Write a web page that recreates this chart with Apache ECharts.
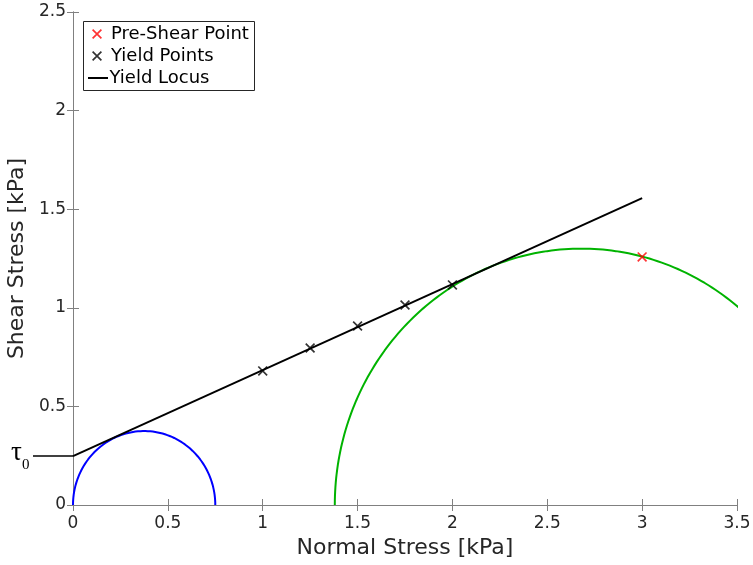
<!DOCTYPE html>
<html>
<head>
<meta charset="utf-8">
<script src="https://cdn.jsdelivr.net/npm/echarts@6/dist/echarts.min.js"></script>
<style>
  html, body { margin: 0; padding: 0; background: #fff; }
  #chart { width: 753px; height: 565px; }
</style>
</head>
<body>
<div id="chart"></div>
<script>
// Mohr circles (centre, radius) in kPa
const circleCentres = [0.375, 2.68];
const circleRadii = [0.375, 1.30];
const circleColors = ['#0000ff', '#00b300'];

// Yield locus: cohesion tau0 and end point
const tau0 = 0.248;
const locusX = [0, 3];
const locusY = [0.248, 1.556];

// Measured yield points
const yieldX = [1, 1.25, 1.5, 1.75, 2];
const yieldY = [0.68, 0.796, 0.908, 1.014, 1.116];

// Pre-shear point
const preShearX = [3];
const preShearY = [1.258];

// Axis ranges and ticks
const xTicks = [0, 0.5, 1, 1.5, 2, 2.5, 3, 3.5];
const yTicks = [0, 0.5, 1, 1.5, 2, 2.5];

const FONT = 'DejaVu Sans';
const AXIS_GRAY = '#808080';
const TEXT = '#262626';
const CROSS = 'path://M0,1.2L1.2,0L10,8.8L8.8,10Z M8.8,0L10,1.2L1.2,10L0,8.8Z';
const DASH = 'path://M0,0H20V2H0Z';

// Upper half of a Mohr circle as a polyline
function halfCircle(c, r) {
  const pts = [];
  const n = 180;
  for (let i = 0; i <= n; i++) {
    const a = Math.PI - Math.PI * i / n;
    pts.push([c + r * Math.cos(a), r * Math.sin(a)]);
  }
  return pts;
}

const chart = echarts.init(document.getElementById('chart'), null, { renderer: 'canvas' });

const axisCommon = {
  type: 'value',
  axisLine: { show: true, lineStyle: { color: AXIS_GRAY, width: 1 } },
  axisTick: { show: true, inside: true, length: 6, lineStyle: { color: AXIS_GRAY } },
  splitLine: { show: false },
};

const legendText = { fontFamily: FONT, fontSize: 18, color: '#000' };

const option = {
  animation: false,
  backgroundColor: '#fff',
  grid: { left: 73, right: 16, top: 12, bottom: 60, containLabel: false, outerBoundsMode: 'none' },
  xAxis: [
    Object.assign({}, axisCommon, {
      min: xTicks[0], max: xTicks[xTicks.length - 1], interval: 0.5,
      position: 'bottom',
      name: 'Normal Stress [kPa]', nameLocation: 'middle', nameGap: 31,
      nameTextStyle: { fontFamily: FONT, fontSize: 22, color: TEXT },
      axisLabel: { fontFamily: FONT, fontSize: 17, color: TEXT, margin: 10 },
    }),
    Object.assign({}, axisCommon, {
      min: xTicks[0], max: xTicks[xTicks.length - 1], interval: 0.5,
      position: 'top', axisLabel: { show: false },
    }),
  ],
  yAxis: [
    Object.assign({}, axisCommon, {
      min: yTicks[0], max: yTicks[yTicks.length - 1], interval: 0.5,
      position: 'left',
      name: 'Shear Stress [kPa]', nameLocation: 'middle', nameGap: 41,
      nameTextStyle: { fontFamily: FONT, fontSize: 22, color: TEXT },
      axisLabel: { fontFamily: FONT, fontSize: 17, color: TEXT, margin: 7 },
    }),
    Object.assign({}, axisCommon, {
      min: yTicks[0], max: yTicks[yTicks.length - 1], interval: 0.5,
      position: 'right', axisLabel: { show: false },
    }),
  ],
  legend: [
    {
      left: 92, top: 25, itemWidth: 10, itemHeight: 10, padding: 0,
      data: [{ name: 'Pre-Shear Point', icon: CROSS }],
      textStyle: Object.assign({ padding: [0, 0, 0, 4] }, legendText),
      selectedMode: false,
    },
    {
      left: 92, top: 47, itemWidth: 10, itemHeight: 10, padding: 0,
      data: [{ name: 'Yield Points', icon: CROSS }],
      textStyle: Object.assign({ padding: [0, 0, 0, 4] }, legendText),
      selectedMode: false,
    },
    {
      left: 88, top: 69, itemWidth: 21, itemHeight: 2, padding: 0,
      data: [{ name: 'Yield Locus', icon: DASH }],
      textStyle: Object.assign({ padding: [0, 0, 0, -4] }, legendText),
      selectedMode: false,
    },
  ],
  series: [
    {
      name: 'Mohr circle 1', type: 'line', data: halfCircle(circleCentres[0], circleRadii[0]),
      showSymbol: false, symbol: 'none', lineStyle: { color: circleColors[0], width: 2 },
      silent: true, z: 2,
    },
    {
      name: 'Mohr circle 2', type: 'line', data: halfCircle(circleCentres[1], circleRadii[1]),
      showSymbol: false, symbol: 'none', lineStyle: { color: circleColors[1], width: 2 },
      silent: true, z: 2,
    },
    {
      name: 'Yield Locus', type: 'line', data: locusX.map((x, i) => [x, locusY[i]]),
      symbol: 'none', lineStyle: { color: '#000', width: 2 }, itemStyle: { color: '#000' },
      z: 3,
    },
    {
      name: 'Yield Points', type: 'scatter', data: yieldX.map((x, i) => [x, yieldY[i]]),
      symbol: CROSS, symbolSize: 10, itemStyle: { color: '#000' }, z: 4,
    },
    {
      name: 'Pre-Shear Point', type: 'scatter', data: preShearX.map((x, i) => [x, preShearY[i]]),
      symbol: CROSS, symbolSize: 10, itemStyle: { color: '#ff0000' }, z: 4,
    },
  ],
};

chart.setOption(option);

// Legend frame, tau0 guide and its label beside the axis
const p = chart.convertToPixel({ xAxisIndex: 0, yAxisIndex: 0 }, [0, tau0]);
chart.setOption({
  graphic: [
    {
      type: 'rect', left: 83, top: 21, z: -1,
      shape: { width: 171, height: 69 },
      style: { fill: '#fff', stroke: '#262626', lineWidth: 1 },
    },
    {
      type: 'line', z: 10,
      shape: { x1: p[0] - 40, y1: p[1], x2: p[0], y2: p[1] },
      style: { stroke: '#000', lineWidth: 1.5 },
    },
    {
      type: 'text', x: 11, y: p[1] + 10, z: 10,
      style: { text: 'τ', font: '27px "Liberation Serif"', fill: '#000', textVerticalAlign: 'bottom' },
    },
    {
      type: 'text', x: 22, y: p[1] + 16, z: 10,
      style: { text: '0', font: '15px "Liberation Serif"', fill: '#000', textVerticalAlign: 'bottom' },
    },
  ],
});
</script>
</body>
</html>
